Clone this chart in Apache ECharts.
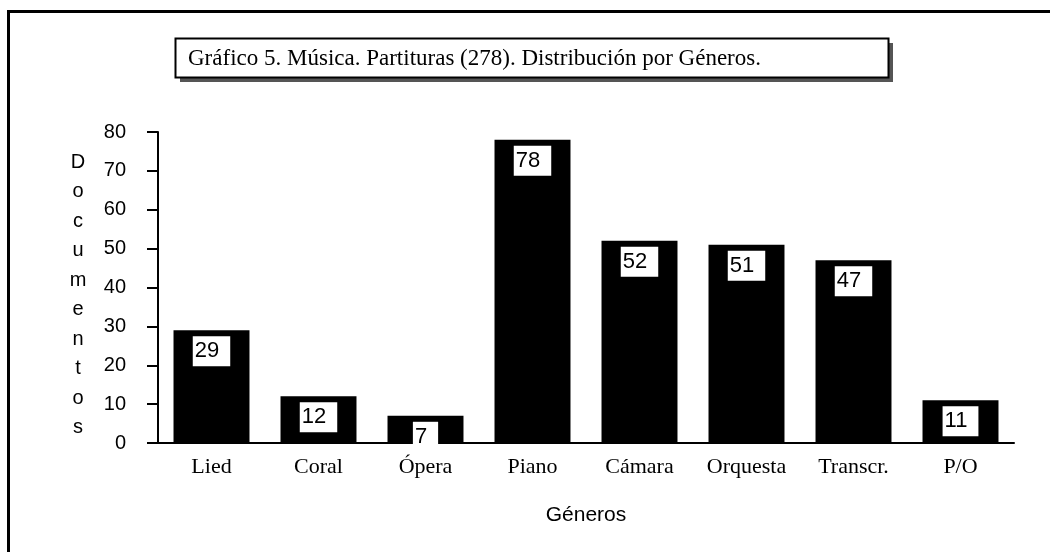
<!DOCTYPE html>
<html>
<head>
<meta charset="utf-8">
<script src="https://cdn.jsdelivr.net/npm/echarts@6/dist/echarts.min.js"></script>
<style>html,body{margin:0;padding:0;background:#fff}#c{width:1050px;height:552px}</style>
</head>
<body>
<div id="c"></div>
<script>
const categories = ['Lied', 'Coral', 'Ópera', 'Piano', 'Cámara', 'Orquesta', 'Transcr.', 'P/O'];
const documentos = [29, 12, 7, 78, 52, 51, 47, 11];
const yTicks = [0, 10, 20, 30, 40, 50, 60, 70, 80];
const titleText = 'Gráfico 5. Música. Partituras (278). Distribución por Géneros.';
const yName = 'Documentos';
const xName = 'Géneros';

const chart = echarts.init(document.getElementById('c'), null, {renderer: 'canvas'});
chart.setOption({
  animation: false,
  backgroundColor: '#fff',
  grid: {left: 158, right: 36, top: 132, bottom: 109},
  graphic: [
    {type: 'rect', shape: {x: 8.5, y: 11.5, width: 1200, height: 700}, style: {fill: 'none', stroke: '#000', lineWidth: 3}},
    {type: 'rect', shape: {x: 180, y: 43, width: 713, height: 39}, style: {fill: '#555'}},
    {type: 'rect', shape: {x: 175.5, y: 38.5, width: 713, height: 39}, style: {fill: '#fff', stroke: '#000', lineWidth: 2}},
    {type: 'text', x: 188, y: 59, style: {text: titleText, font: '23px "Liberation Serif", "Times New Roman", serif', fill: '#000', textVerticalAlign: 'middle'}},
    {type: 'text', x: 78, y: 295, style: {text: yName.split('').join('\n'), font: '20px "Liberation Sans", Arial, sans-serif', lineHeight: 29.5, fill: '#000', textAlign: 'center', textVerticalAlign: 'middle'}}
  ],
  xAxis: {
    type: 'category',
    data: categories,
    name: xName,
    nameLocation: 'middle',
    nameGap: 62,
    nameTextStyle: {fontFamily: '"Liberation Sans", Arial, sans-serif', fontSize: 21, color: '#000'},
    axisLine: {lineStyle: {color: '#000', width: 2}},
    axisTick: {length: 9, lineStyle: {color: '#000', width: 2}},
    axisLabel: {margin: 13, fontFamily: '"Liberation Serif", "Times New Roman", serif', fontSize: 22, color: '#000'}
  },
  yAxis: {
    type: 'value',
    min: yTicks[0],
    max: yTicks[yTicks.length - 1],
    interval: 10,
    splitLine: {show: false},
    axisLine: {show: true, lineStyle: {color: '#000', width: 2}},
    axisTick: {show: true, length: 11, lineStyle: {color: '#000', width: 2}},
    axisLabel: {margin: 32, fontFamily: '"Liberation Sans", Arial, sans-serif', fontSize: 20, color: '#000'}
  },
  series: [{
    type: 'bar',
    data: documentos,
    barCategoryGap: '29%',
    itemStyle: {color: '#000'},
    label: {
      show: true,
      position: 'insideTop',
      distance: 6,
      backgroundColor: '#fff',
      padding: [5, 11, 5, 2],
      fontFamily: '"Liberation Sans", Arial, sans-serif',
      fontSize: 22,
      lineHeight: 20,
      color: '#000'
    }
  }]
});
</script>
</body>
</html>
